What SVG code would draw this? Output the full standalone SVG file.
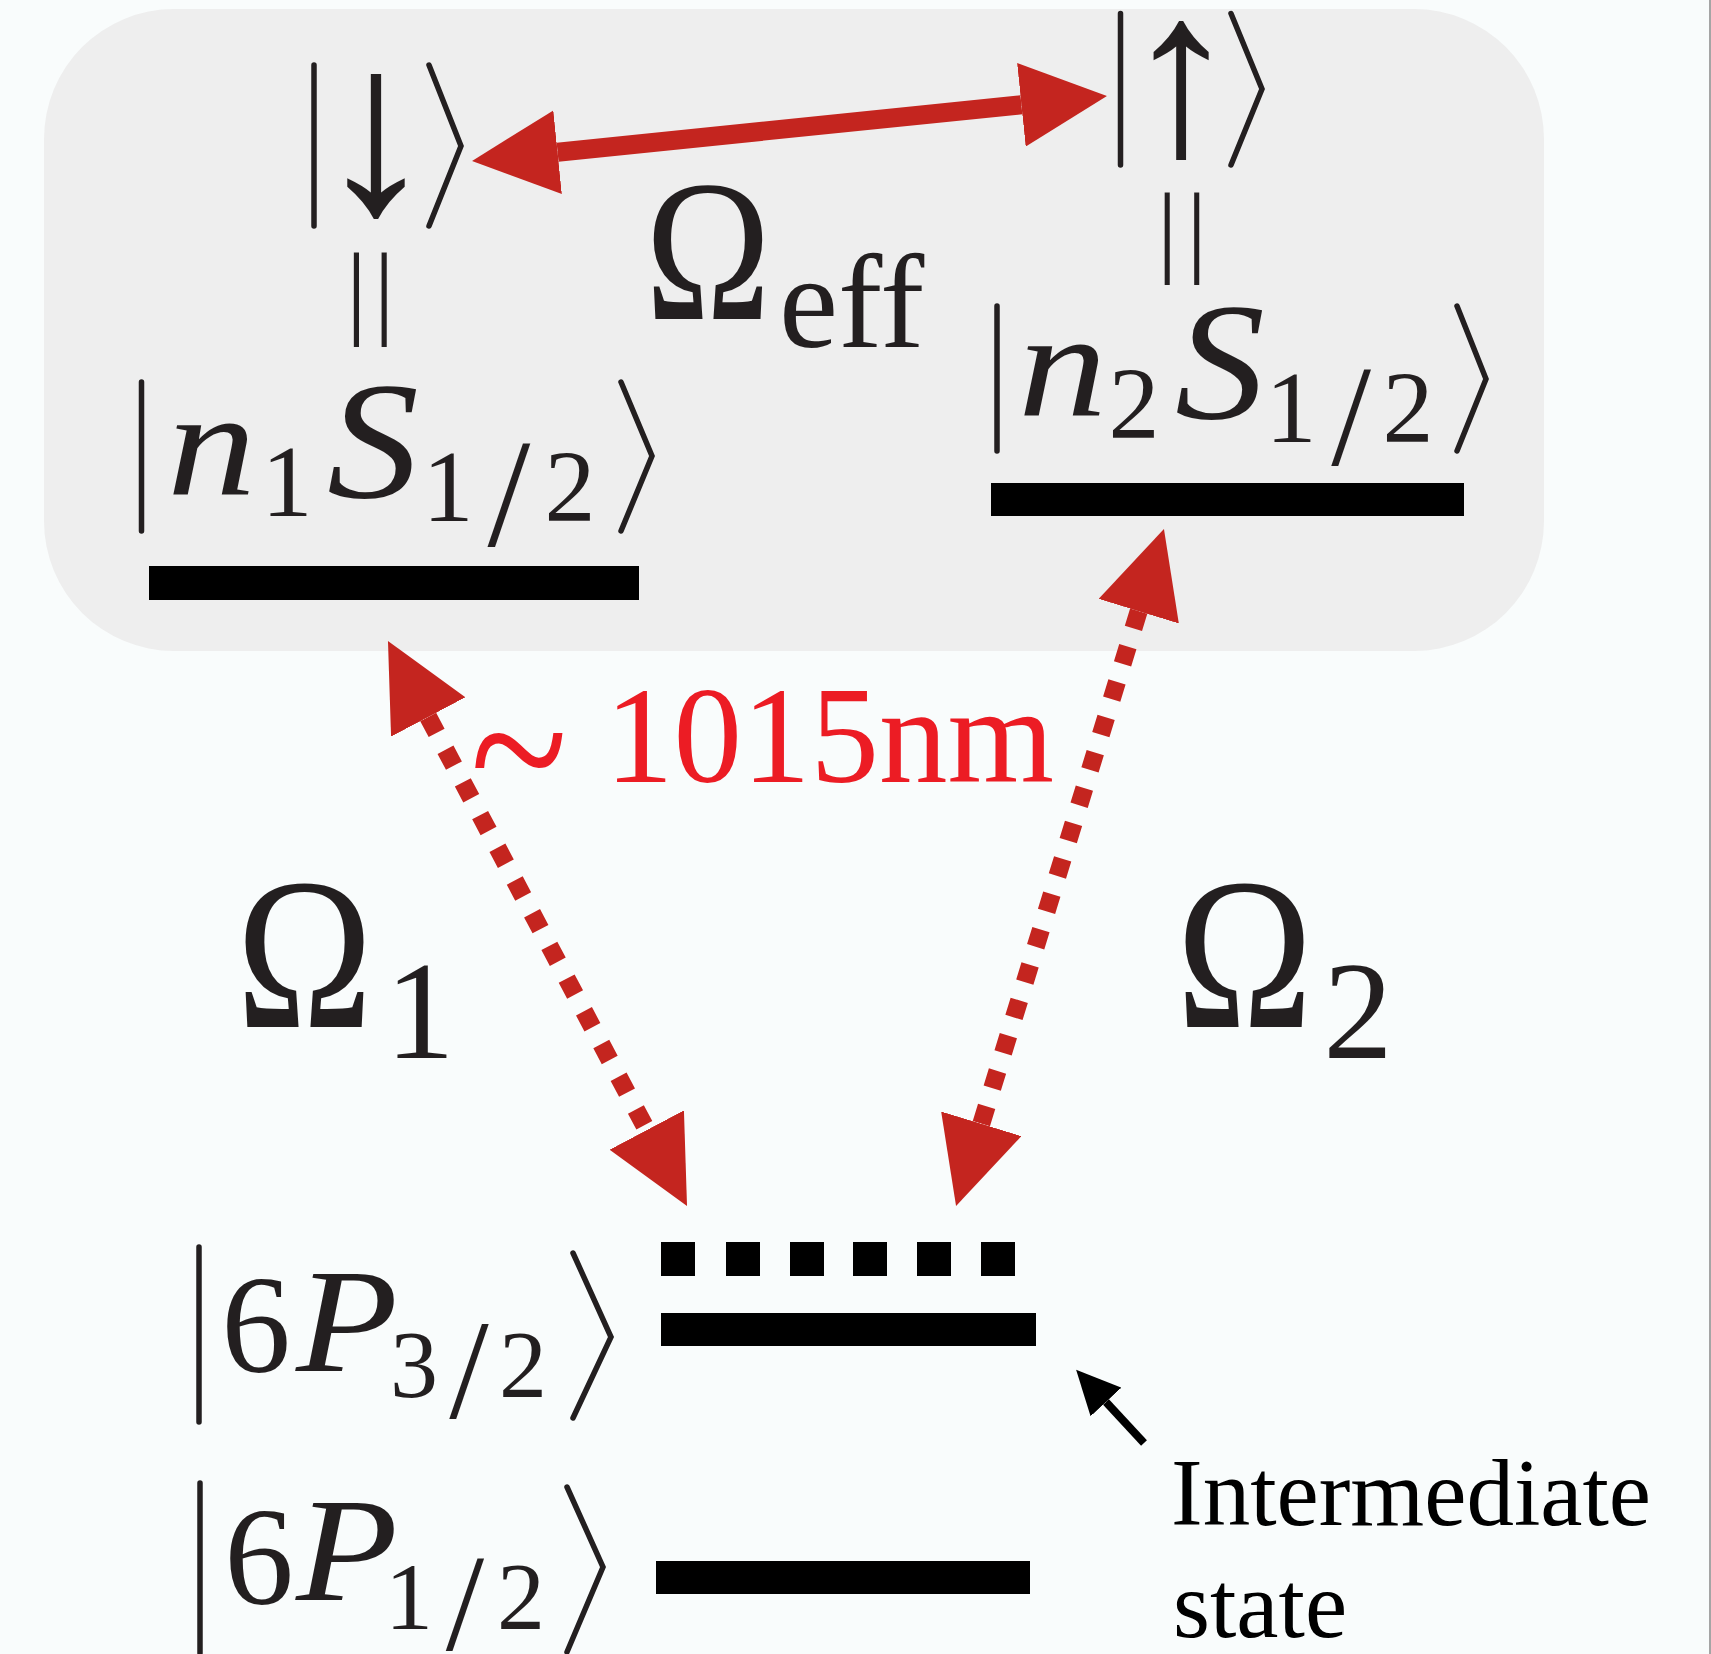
<svg xmlns="http://www.w3.org/2000/svg" width="1711" height="1654" viewBox="0 0 1711 1654">
<style>
.t{font-family:"Liberation Serif","Times New Roman",serif;fill:#231f20}
.tm{font-family:"Liberation Serif","Times New Roman",serif;fill:#231f20;text-anchor:middle}
.ti{font-family:"Liberation Serif","Times New Roman",serif;fill:#231f20;font-style:italic}
.rd{font-family:"Liberation Serif","Times New Roman",serif;fill:#ec1c24}
.bk{font-family:"Liberation Serif","Times New Roman",serif;fill:#000}
.dl{fill:none;stroke:#231f20;stroke-width:5.5;stroke-linecap:round;stroke-linejoin:miter}
.bar{fill:#000}
.dot{fill:none;stroke:#c4251f;stroke-width:18;stroke-dasharray:18 19}
</style>
<defs>
<marker id="ah" markerUnits="userSpaceOnUse" viewBox="0 0 86 84" refX="0" refY="42" markerWidth="86" markerHeight="84" orient="auto-start-reverse">
<path d="M0,0 L86,42 L0,84 Z" fill="#c4251f"/>
</marker>
<marker id="bh" markerUnits="userSpaceOnUse" viewBox="0 0 44 42" refX="0" refY="21" markerWidth="44" markerHeight="42" orient="auto">
<path d="M0,0 L44,21 L0,42 Z" fill="#000"/>
</marker>
</defs>
<rect x="0" y="0" width="1711" height="1654" fill="#f9fcfc"/>
<line x1="1710" y1="0" x2="1710" y2="1654" stroke="#888" stroke-width="1.5"/>
<rect id="box" x="44" y="9" width="1500" height="642" rx="130" ry="130" fill="#eeeeee"/>

<g id="down">
<path class="dl" d="M314,65 V226 M429,65 L461,146 L429,226"/>
<text class="tm" x="376" y="212" font-size="245">↓</text>
<text class="t" x="346" y="325" font-size="104" letter-spacing="7">||</text>
</g>

<g id="up">
<path class="dl" d="M1120.5,13.5 V165 M1231,13.5 L1262,89 L1231,165"/>
<text class="tm" x="1181" y="153" font-size="235">↑</text>
<text class="t" x="1157" y="263" font-size="102" letter-spacing="9">||</text>
</g>

<g id="n1S">
<path class="dl" d="M141.5,382 V531 M621,382 L652,456 L621,531"/>
<text class="ti" x="167" y="494" font-size="150" textLength="89" lengthAdjust="spacingAndGlyphs">n</text>
<text class="tm" x="287" y="516" font-size="102">1</text>
<text class="ti" x="327" y="497" font-size="168" textLength="92" lengthAdjust="spacingAndGlyphs">S</text>
<text class="tm" x="448" y="521" font-size="102">1</text>
<text class="tm" x="509" y="545" font-size="154">/</text>
<text class="tm" x="570" y="521" font-size="102">2</text>
<rect class="bar" x="149" y="566" width="490" height="34"/>
</g>

<g id="n2S">
<path class="dl" d="M997,306 V451 M1457,306 L1486,379 L1457,451"/>
<text class="ti" x="1018" y="415" font-size="150" textLength="89" lengthAdjust="spacingAndGlyphs">n</text>
<text class="tm" x="1134" y="438" font-size="102">2</text>
<text class="ti" x="1175" y="418" font-size="168" textLength="90" lengthAdjust="spacingAndGlyphs">S</text>
<text class="tm" x="1291" y="442" font-size="102">1</text>
<text class="tm" x="1351" y="465" font-size="143">/</text>
<text class="tm" x="1408" y="442" font-size="102">2</text>
<rect class="bar" x="991" y="483" width="473" height="33"/>
</g>

<g id="p32">
<path class="dl" d="M199,1247 V1422 M573,1253 L611,1337 L573,1418"/>
<text class="tm" x="256" y="1372" font-size="139">6</text>
<text class="ti" x="296" y="1371" font-size="148" textLength="102" lengthAdjust="spacingAndGlyphs">P</text>
<text class="tm" x="414" y="1397" font-size="96">3</text>
<text class="tm" x="469" y="1418" font-size="142">/</text>
<text class="tm" x="523" y="1397" font-size="96">2</text>
<rect class="bar" x="661" y="1313" width="375" height="33"/>
<g class="bar">
<rect x="661" y="1242" width="34" height="34"/>
<rect x="726" y="1242" width="34" height="34"/>
<rect x="790" y="1242" width="34" height="34"/>
<rect x="853" y="1242" width="34" height="34"/>
<rect x="917" y="1242" width="34" height="34"/>
<rect x="981" y="1242" width="34" height="34"/>
</g>
</g>

<g id="p12">
<path class="dl" d="M200,1483 V1653 M567,1487 L603,1567 L567,1652"/>
<text class="tm" x="259" y="1604" font-size="139">6</text>
<text class="ti" x="296" y="1600" font-size="148" textLength="102" lengthAdjust="spacingAndGlyphs">P</text>
<text class="tm" x="409" y="1629" font-size="96">1</text>
<text class="tm" x="465" y="1650" font-size="138">/</text>
<text class="tm" x="521" y="1629" font-size="96">2</text>
<rect class="bar" x="656" y="1561" width="374" height="33"/>
</g>

<g id="omegaEff">
<text class="t" x="645" y="319" font-size="202" textLength="126" lengthAdjust="spacingAndGlyphs">Ω</text>
<text class="t" x="779" y="347" font-size="133">eff</text>
</g>
<g id="omega1">
<text class="t" x="236" y="1027" font-size="216" textLength="137" lengthAdjust="spacingAndGlyphs">Ω</text>
<text class="tm" x="420" y="1058" font-size="139">1</text>
</g>
<g id="omega2">
<text class="t" x="1176" y="1027" font-size="216" textLength="137" lengthAdjust="spacingAndGlyphs">Ω</text>
<text class="tm" x="1358" y="1058" font-size="139">2</text>
</g>

<g id="wavelength">
<text class="rd" transform="translate(519,757) scale(1,1.15)" x="0" y="0" font-size="180" text-anchor="middle" dy="0.3em">~</text>
<text class="rd" x="605" y="782" font-size="137">1015nm</text>
</g>

<g id="intermediate">
<text class="bk" x="1171" y="1525" font-size="95">Intermediate</text>
<text class="bk" x="1173" y="1637" font-size="95">state</text>
</g>

<g id="connectors">
<line x1="557.6" y1="152.2" x2="1021.4" y2="104.8" stroke="#c4251f" stroke-width="19" marker-start="url(#ah)" marker-end="url(#ah)"/>
<line class="dot" x1="428.2" y1="717" x2="646.8" y2="1130" marker-start="url(#ah)" marker-end="url(#ah)"/>
<line class="dot" x1="1138.7" y1="611.2" x2="981.3" y2="1123.8" marker-start="url(#ah)" marker-end="url(#ah)"/>
<line x1="1144" y1="1443" x2="1106" y2="1402" stroke="#000" stroke-width="8" marker-end="url(#bh)"/>
</g>
</svg>
